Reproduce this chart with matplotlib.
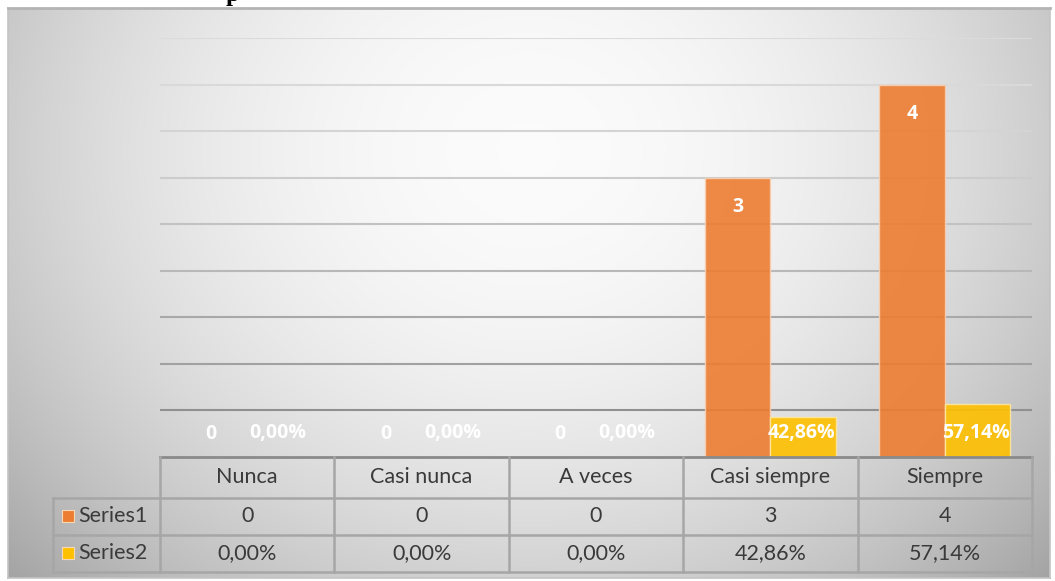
import numpy as np
import matplotlib
matplotlib.use('Agg')
import matplotlib.pyplot as plt
from matplotlib.lines import Line2D
from matplotlib.patches import Rectangle
from matplotlib.transforms import blended_transform_factory

# datos del gráfico
categorias = ['Nunca', 'Casi nunca', 'A veces', 'Casi siempre', 'Siempre']
series1 = [0, 0, 0, 3, 4]
series2 = [0.0, 0.0, 0.0, 0.4286, 0.5714]
etiquetas2 = ['0,00%', '0,00%', '0,00%', '42,86%', '57,14%']
nombres = ['Series1', 'Series2']

naranja = '#ED7D31'
amarillo = '#FFC000'
W, H = 1055, 581

plt.rcParams['font.family'] = ['Lato', 'DejaVu Sans']
fuente_etq = ['Open Sans', 'DejaVu Sans']

fig = plt.figure(figsize=(W / 100, H / 100), dpi=100)
fig.patch.set_facecolor('white')


def fx(px):
    return px / W


def fy(py):
    return 1 - py / H


# fondo con degradado radial
bg = fig.add_axes([fx(8), fy(578), fx(1050) - fx(8), fy(8) - fy(578)])
yy, xx = np.mgrid[0:1:300j, 0:1:500j]
r2 = ((xx - 0.5) / 0.6) ** 2 + ((yy - 0.25) / 0.95) ** 2
g = np.clip(0.985 - 0.26 * r2, 0, 1)
bg.imshow(np.dstack([g, g, g]), aspect='auto')
bg.set_xticks([])
bg.set_yticks([])
for s in bg.spines.values():
    s.set_color('#c4c4c4')
    s.set_linewidth(1.2)
bg.spines['top'].set_color('#b4b4b4')
bg.spines['top'].set_linewidth(2)

# área de trazado
ax = fig.add_axes([fx(160), fy(457), fx(1032) - fx(160), fy(38) - fy(457)])
ax.patch.set_alpha(0)
x = np.arange(len(categorias))
w = 0.375
ax.bar(x - w / 2, series1, w, color=naranja, alpha=0.9, edgecolor='#f7cfb2', linewidth=1, zorder=3)
ax.bar(x + w / 2, series2, w, color=amarillo, alpha=0.9, edgecolor='#fde7a0', linewidth=1, zorder=3)
ax.set_xlim(-0.5, 4.5)
ax.set_ylim(0, 4.5)
ax.set_xticks([])
ax.set_yticks([])
for s in ax.spines.values():
    s.set_visible(False)

niveles = np.arange(0.5, 4.51, 0.5)
grises = [0.565, 0.63, 0.66, 0.72, 0.76, 0.80, 0.83, 0.85, 0.86]
for yv, gr in zip(niveles, grises):
    ax.axhline(yv, color=(gr, gr, gr), lw=1.5, zorder=1)
ax.axhline(0, color='#8a8a8a', lw=2, clip_on=False, zorder=4)

# etiquetas de datos
for xi, v in zip(x, series1):
    if v > 0:
        ax.annotate(str(v), (xi - w / 2, v), xytext=(0, -21), textcoords='offset points',
                    ha='center', va='center', color='white', fontweight='bold', fontsize=14,
                    family=fuente_etq, zorder=5)
    else:
        ax.annotate(str(v), (xi - w / 2 - 0.02, 0), xytext=(0, 16.5), textcoords='offset points',
                    ha='center', va='center', color='white', fontweight='bold', fontsize=14,
                    family=fuente_etq, zorder=5)
for xi, lab in zip(x, etiquetas2):
    ax.annotate(lab, (xi + w / 2 - 0.01, 0), xytext=(0, 17.5), textcoords='offset points',
                ha='center', va='center', color='white', fontweight='bold', fontsize=14,
                family=fuente_etq, zorder=5)

# tabla de datos
trans = blended_transform_factory(ax.transData, fig.transFigure)
linea = '#a6a6a6'
texto = '#3a3a3a'
for py in [498, 535, 572]:
    fig.add_artist(Line2D([fx(53), fx(1032)], [fy(py), fy(py)], color=linea, lw=1.8))
for b in np.arange(-0.5, len(categorias)):
    fig.add_artist(Line2D([b, b], [fy(457), fy(572)], color=linea, lw=1.8, transform=trans))
fig.add_artist(Line2D([fx(53), fx(53)], [fy(498), fy(572)], color=linea, lw=1.8))

for xi, cat, v1, v2 in zip(x, categorias, series1, etiquetas2):
    fig.text(xi, fy(477), cat, transform=trans, ha='center', va='center', color=texto, fontsize=15.5)
    fig.text(xi, fy(516), str(v1), transform=trans, ha='center', va='center', color=texto, fontsize=15.5)
    fig.text(xi, fy(553), v2, transform=trans, ha='center', va='center', color=texto, fontsize=15.5)

for nombre, col, py in zip(nombres, [naranja, amarillo], [516, 553]):
    fig.add_artist(Rectangle((fx(62), fy(py + 6)), fx(12), fy(py - 6) - fy(py + 6),
                             facecolor=col, edgecolor='#f5d9b8', lw=0.8, transform=fig.transFigure))
    fig.text(fx(78), fy(py), nombre, ha='left', va='center', color=texto, fontsize=15.5)

# resto del título, recortado por el borde superior como en el original
fig.text(fx(226), fy(0.5), 'p', family='Liberation Serif', fontweight='bold', fontsize=18,
         va='baseline', color='black')

fig.savefig('out.png', dpi=100)
